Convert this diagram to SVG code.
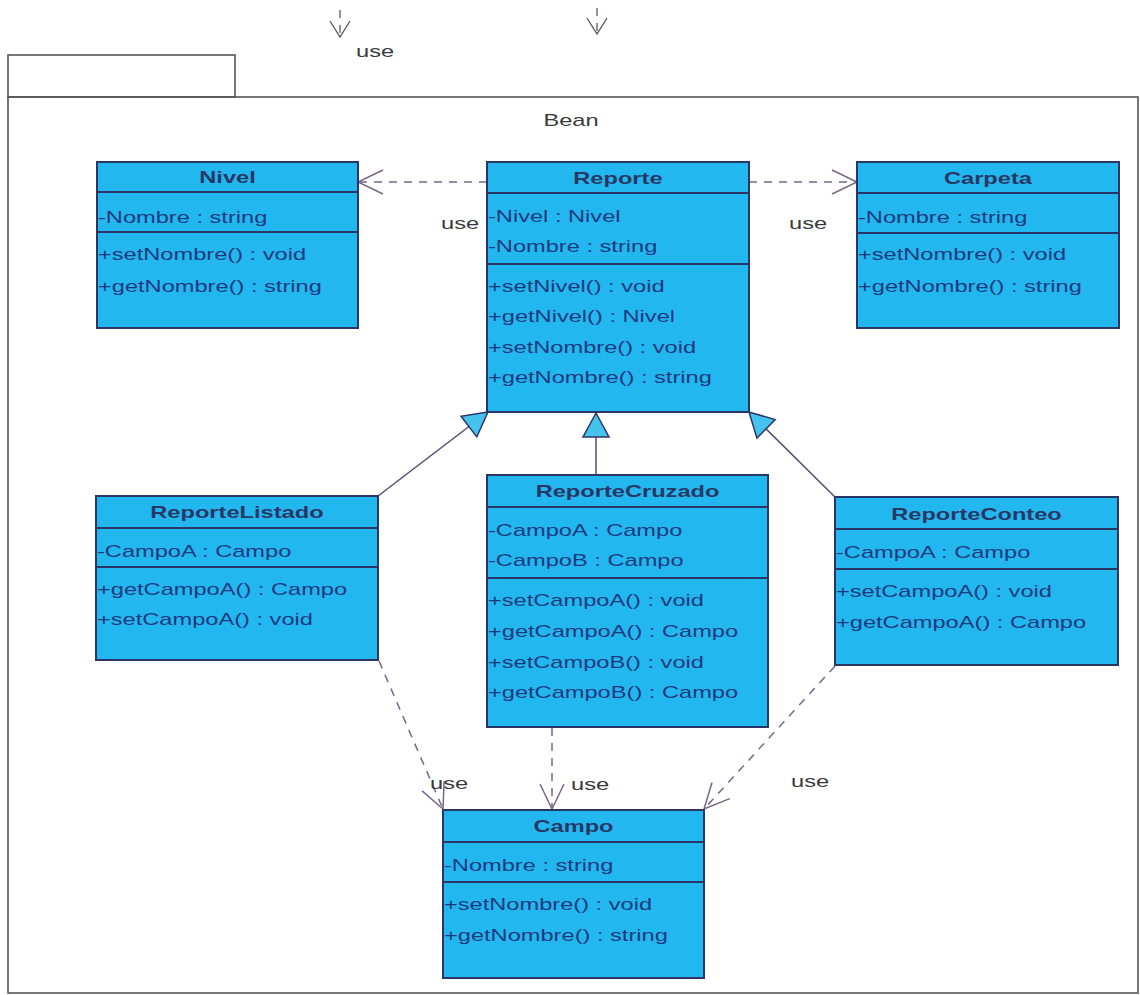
<svg xmlns="http://www.w3.org/2000/svg" width="1140" height="995" viewBox="0 0 1140 995">
  <style>
    .pkg { fill: none; stroke: #555; stroke-width: 1.6; }
    .box { fill: #22b7ef; stroke: #2b3666; stroke-width: 2; }
    .sep { stroke: #2b3666; stroke-width: 2; }
    .ttl { font-family: "Liberation Sans", Arial, sans-serif; font-size: 17px; font-weight: bold; fill: #283766; text-anchor: middle; }
    .mem { font-family: "Liberation Sans", Arial, sans-serif; font-size: 17px; fill: #1d3a80; }
    .lbl { font-family: "Liberation Sans", Arial, sans-serif; font-size: 17px; fill: #3a3a3a; }
    .dep { fill: none; stroke: #7a6688; stroke-width: 1.5; stroke-dasharray: 8 7; }
    .gen { fill: none; stroke: #5a4a70; stroke-width: 1.5; }
  </style>
  <defs>
    <marker id="open" markerUnits="userSpaceOnUse" viewBox="-27 -14 29 28" refX="0" refY="0" markerWidth="29" markerHeight="28" orient="auto">
      <path d="M-25,-12 L0,0 L-25,12" fill="none" stroke="#7a6688" stroke-width="1.5"/>
    </marker>
    <marker id="openSmall" markerUnits="userSpaceOnUse" viewBox="-18 -12 20 24" refX="0" refY="0" markerWidth="20" markerHeight="24" orient="auto">
      <path d="M-16,-10 L0,0 L-16,10" fill="none" stroke="#555" stroke-width="1.3"/>
    </marker>
    <marker id="tri" markerUnits="userSpaceOnUse" viewBox="-26 -15 28 30" refX="0" refY="0" markerWidth="28" markerHeight="30" orient="auto">
      <path d="M0,0 L-24,-13 L-24,13 Z" fill="#45c3ee" stroke="#2b3666" stroke-width="1.5"/>
    </marker>
  </defs>

  <rect width="1140" height="995" fill="#ffffff"/>

  <!-- incoming dependencies from outside the package -->
  <g id="external">
    <line class="dep" x1="340" y1="10" x2="340" y2="37" stroke="#555" stroke-dasharray="10 7" marker-end="url(#openSmall)"/>
    <text class="lbl" transform="translate(356 57) scale(1.39 1)">use</text>
    <line class="dep" x1="597" y1="8" x2="597" y2="34" stroke="#555" stroke-dasharray="10 7" marker-end="url(#openSmall)"/>
  </g>

  <!-- package Bean -->
  <g id="pkg-bean">
    <rect class="pkg" x="8" y="55" width="227" height="42"/>
    <rect class="pkg" x="8" y="97" width="1130" height="896"/>
    <text class="lbl" text-anchor="middle" transform="translate(571 126) scale(1.39 1)">Bean</text>
  </g>

  <!-- connectors -->
  <g id="connectors">
    <line class="dep" x1="487" y1="182" x2="358" y2="182" marker-end="url(#open)"/>
    <line class="dep" x1="749" y1="182" x2="857" y2="182" marker-end="url(#open)"/>
    <line class="gen" x1="378" y1="496" x2="488" y2="412" marker-end="url(#tri)"/>
    <line class="gen" x1="596" y1="475" x2="596" y2="413" marker-end="url(#tri)"/>
    <line class="gen" x1="835" y1="497" x2="749" y2="412" marker-end="url(#tri)"/>
    <line class="dep" x1="379" y1="661" x2="443" y2="809" marker-end="url(#open)"/>
    <line class="dep" x1="552" y1="728" x2="552" y2="809" marker-end="url(#open)"/>
    <line class="dep" x1="835" y1="666" x2="704" y2="809" marker-end="url(#open)"/>
    <text class="lbl" transform="translate(441 229) scale(1.39 1)">use</text>
    <text class="lbl" transform="translate(789 229) scale(1.39 1)">use</text>
    <text class="lbl" transform="translate(430 789) scale(1.39 1)">use</text>
    <text class="lbl" transform="translate(571 790) scale(1.39 1)">use</text>
    <text class="lbl" transform="translate(791 787) scale(1.39 1)">use</text>
  </g>

  <!-- class Nivel -->
  <g id="nivel">
    <rect class="box" x="97" y="162" width="261" height="166"/>
    <line class="sep" x1="97" y1="192" x2="358" y2="192"/>
    <line class="sep" x1="97" y1="232" x2="358" y2="232"/>
    <g transform="translate(97 0) scale(1.39 1)">
      <text class="ttl" x="93.9" y="183">Nivel</text>
      <text class="mem" x="0.7" y="223">-Nombre : string</text>
      <text class="mem" x="0.7" y="260">+setNombre() : void</text>
      <text class="mem" x="0.7" y="292">+getNombre() : string</text>
    </g>
  </g>

  <!-- class Reporte -->
  <g id="reporte">
    <rect class="box" x="487" y="162" width="262" height="250"/>
    <line class="sep" x1="487" y1="193" x2="749" y2="193"/>
    <line class="sep" x1="487" y1="264" x2="749" y2="264"/>
    <g transform="translate(487 0) scale(1.39 1)">
      <text class="ttl" x="94.2" y="184">Reporte</text>
      <text class="mem" x="0.7" y="222">-Nivel : Nivel</text>
      <text class="mem" x="0.7" y="252">-Nombre : string</text>
      <text class="mem" x="0.7" y="292">+setNivel() : void</text>
      <text class="mem" x="0.7" y="322">+getNivel() : Nivel</text>
      <text class="mem" x="0.7" y="353">+setNombre() : void</text>
      <text class="mem" x="0.7" y="383">+getNombre() : string</text>
    </g>
  </g>

  <!-- class Carpeta -->
  <g id="carpeta">
    <rect class="box" x="857" y="162" width="262" height="166"/>
    <line class="sep" x1="857" y1="193" x2="1119" y2="193"/>
    <line class="sep" x1="857" y1="233" x2="1119" y2="233"/>
    <g transform="translate(857 0) scale(1.39 1)">
      <text class="ttl" x="94.2" y="184">Carpeta</text>
      <text class="mem" x="0.7" y="223">-Nombre : string</text>
      <text class="mem" x="0.7" y="260">+setNombre() : void</text>
      <text class="mem" x="0.7" y="292">+getNombre() : string</text>
    </g>
  </g>

  <!-- class ReporteListado -->
  <g id="reporte-listado">
    <rect class="box" x="96" y="496" width="282" height="164"/>
    <line class="sep" x1="96" y1="528" x2="378" y2="528"/>
    <line class="sep" x1="96" y1="567" x2="378" y2="567"/>
    <g transform="translate(96 0) scale(1.39 1)">
      <text class="ttl" x="101.4" y="518">ReporteListado</text>
      <text class="mem" x="0.7" y="557">-CampoA : Campo</text>
      <text class="mem" x="0.7" y="595">+getCampoA() : Campo</text>
      <text class="mem" x="0.7" y="625">+setCampoA() : void</text>
    </g>
  </g>

  <!-- class ReporteCruzado -->
  <g id="reporte-cruzado">
    <rect class="box" x="487" y="475" width="281" height="252"/>
    <line class="sep" x1="487" y1="507" x2="768" y2="507"/>
    <line class="sep" x1="487" y1="578" x2="768" y2="578"/>
    <g transform="translate(487 0) scale(1.39 1)">
      <text class="ttl" x="101.1" y="497">ReporteCruzado</text>
      <text class="mem" x="0.7" y="536">-CampoA : Campo</text>
      <text class="mem" x="0.7" y="566">-CampoB : Campo</text>
      <text class="mem" x="0.7" y="606">+setCampoA() : void</text>
      <text class="mem" x="0.7" y="637">+getCampoA() : Campo</text>
      <text class="mem" x="0.7" y="668">+setCampoB() : void</text>
      <text class="mem" x="0.7" y="698">+getCampoB() : Campo</text>
    </g>
  </g>

  <!-- class ReporteConteo -->
  <g id="reporte-conteo">
    <rect class="box" x="835" y="497" width="283" height="168"/>
    <line class="sep" x1="835" y1="529" x2="1118" y2="529"/>
    <line class="sep" x1="835" y1="569" x2="1118" y2="569"/>
    <g transform="translate(835 0) scale(1.39 1)">
      <text class="ttl" x="101.8" y="520">ReporteConteo</text>
      <text class="mem" x="0.7" y="558">-CampoA : Campo</text>
      <text class="mem" x="0.7" y="597">+setCampoA() : void</text>
      <text class="mem" x="0.7" y="628">+getCampoA() : Campo</text>
    </g>
  </g>

  <!-- class Campo -->
  <g id="campo">
    <rect class="box" x="443" y="810" width="261" height="168"/>
    <line class="sep" x1="443" y1="842" x2="704" y2="842"/>
    <line class="sep" x1="443" y1="882" x2="704" y2="882"/>
    <g transform="translate(443 0) scale(1.39 1)">
      <text class="ttl" x="93.9" y="832">Campo</text>
      <text class="mem" x="0.7" y="871">-Nombre : string</text>
      <text class="mem" x="0.7" y="910">+setNombre() : void</text>
      <text class="mem" x="0.7" y="941">+getNombre() : string</text>
    </g>
  </g>
</svg>
